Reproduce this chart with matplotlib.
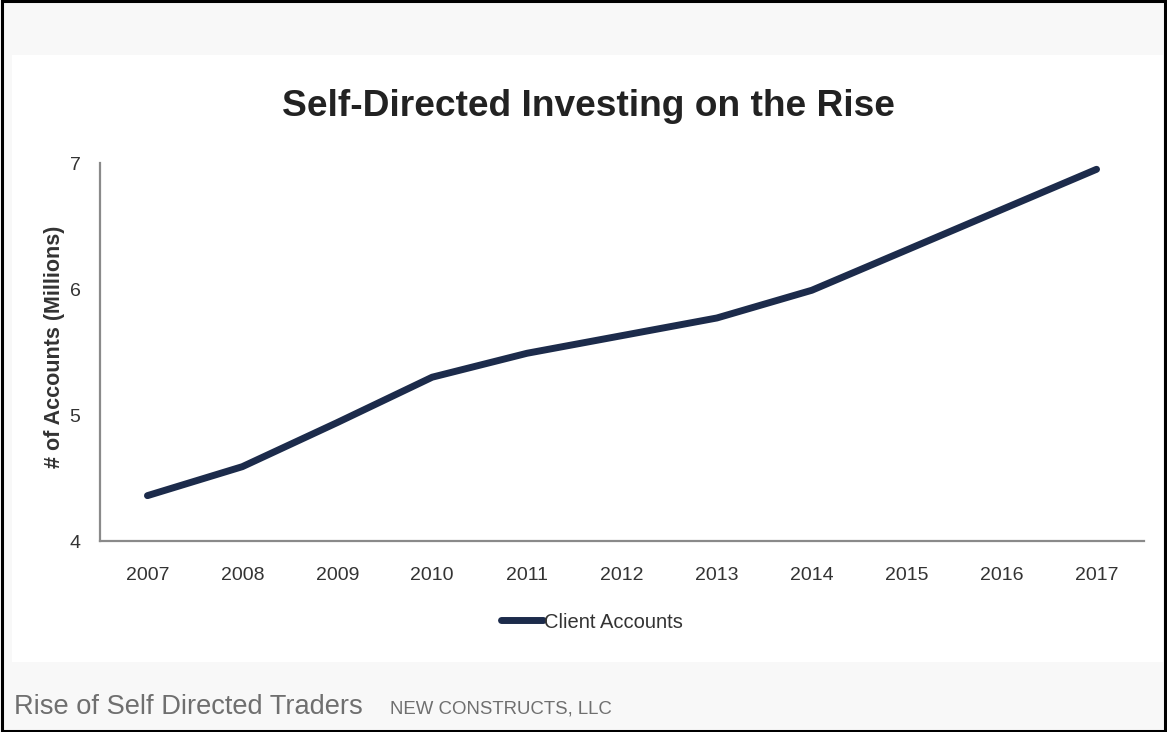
import matplotlib
matplotlib.use("Agg")
import matplotlib.pyplot as plt
from matplotlib.patches import Rectangle

# Series data
years = [2007, 2008, 2009, 2010, 2011, 2012, 2013, 2014, 2015, 2016, 2017]
client_accounts = [4.36, 4.59, 4.94, 5.30, 5.49, 5.63, 5.77, 5.99, 6.31, 6.63, 6.95]
y_ticks = [4, 5, 6, 7]

title = "Self-Directed Investing on the Rise"
y_label = "# of Accounts (Millions)"
series_name = "Client Accounts"
caption = "Rise of Self Directed Traders"
credit = "NEW CONSTRUCTS, LLC"

SANS = ["Liberation Sans", "DejaVu Sans"]
NAVY = "#1c2b4b"

W, H = 1167, 732
fig = plt.figure(figsize=(W / 100, H / 100), dpi=100, facecolor="#f8f8f8")

# white chart panel
fig.patches.append(Rectangle((12 / W, 1 - 662 / H), (1163 - 12) / W, (662 - 55) / H,
                             transform=fig.transFigure, facecolor="white",
                             edgecolor="none", zorder=-5))
# outer frame
fig.patches.append(Rectangle((0.0015, 0.002), 0.997, 0.996, transform=fig.transFigure,
                             facecolor="none", edgecolor="black", linewidth=2.2, zorder=10))

ax = fig.add_axes([100 / W, 1 - 541 / H, (1144 - 100) / W, (541 - 163) / H])
ax.set_zorder(2)
ax.set_facecolor("none")
line, = ax.plot(years, client_accounts, color=NAVY, linewidth=5,
                solid_capstyle="round", solid_joinstyle="round", label=series_name)

ax.set_xlim(2006.5, 2017.5)
ax.set_ylim(4, 7)
ax.set_xticks(years)
ax.set_xticklabels([str(y) for y in years])
ax.set_yticks(y_ticks)
ax.tick_params(length=0, labelsize=14, colors="#333333")
for lbl in ax.get_xticklabels() + ax.get_yticklabels():
    lbl.set_family(SANS)
ax.tick_params(axis="x", pad=19)
ax.tick_params(axis="y", pad=14)

for side in ("top", "right"):
    ax.spines[side].set_visible(False)
for side in ("left", "bottom"):
    ax.spines[side].set_color("#8a8a8a")
    ax.spines[side].set_linewidth(1.6)

ax.set_ylabel(y_label, family=SANS, fontsize=15.5, fontweight="bold", color="#333333")
ax.yaxis.set_label_coords(-0.034, 0.513)

fig.text(588 / W, 1 - 106 / H, title, family=SANS, fontsize=26.7,
         fontweight="bold", color="#222222", ha="center", va="center")

leg = fig.legend(handles=[line], loc="center", bbox_to_anchor=(592 / W, 1 - 622 / H),
                 frameon=False, handlelength=2.1, handletextpad=0.05,
                 prop={"family": SANS, "size": 14.5})
for t in leg.get_texts():
    t.set_color("#333333")

fig.text(14 / W, 1 - 707 / H, caption, family=SANS, fontsize=19.6,
         color="#6f6f6f", ha="left", va="center")
fig.text(390 / W, 1 - 709 / H, credit, family=SANS, fontsize=13.4,
         color="#6f6f6f", ha="left", va="center")

fig.savefig("out.png", dpi=100, facecolor=fig.get_facecolor())
